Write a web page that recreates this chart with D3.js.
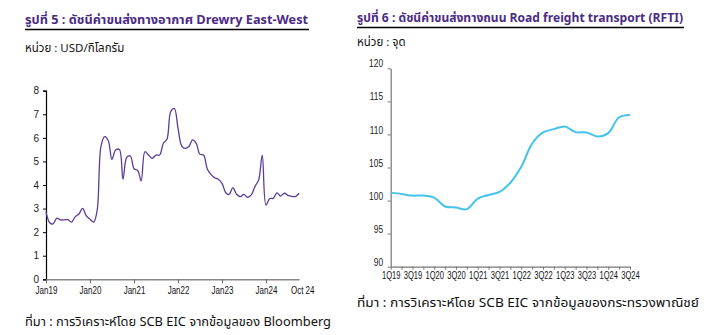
<!DOCTYPE html>
<html>
<head>
<meta charset="utf-8">
<script src="https://cdn.jsdelivr.net/npm/d3@7/dist/d3.min.js"></script>
<style>
  html, body { margin: 0; padding: 0; background: #fff; }
  svg { display: block; }
  text { font-family: Tahoma, "Noto Sans Thai", "Noto Sans", Arial, sans-serif; }
</style>
</head>
<body>
<svg id="chart" width="706" height="335"></svg>
<script>
// Drewry East-West air freight index, USD/kg, monthly Jan 2019 - Oct 2024
const airStart = new Date(2019, 0, 1);
const airValues = [
  2.87, 2.40, 2.35, 2.59, 2.52, 2.52, 2.53, 2.43, 2.66, 2.77, 3.01, 2.70,
  2.55, 2.43, 2.94, 5.63, 6.05, 5.88, 5.09, 5.48, 5.51, 4.24, 5.17, 5.23,
  4.69, 4.61, 4.17, 5.41, 5.27, 5.13, 5.27, 5.27, 5.77, 5.94, 7.11, 7.25,
  6.40, 5.65, 5.55, 5.63, 5.91, 5.77, 5.31, 5.27, 4.68, 4.45, 4.31, 4.24,
  4.07, 3.67, 3.60, 3.89, 3.62, 3.51, 3.60, 3.48, 3.58, 3.93, 4.21, 5.27,
  3.15, 3.43, 3.43, 3.67, 3.53, 3.65, 3.56, 3.52, 3.51, 3.65
];
const airYTicks = [0, 1, 2, 3, 4, 5, 6, 7, 8];
const airXTickLabels = ["Jan19", "Jan20", "Jan21", "Jan22", "Jan23", "Jan24", "Oct 24"];

// Road freight transport index (RFTI), points, quarterly 1Q19 - 3Q24
const roadQuarters = [
  "1Q19", "2Q19", "3Q19", "4Q19", "1Q20", "2Q20", "3Q20", "4Q20",
  "1Q21", "2Q21", "3Q21", "4Q21", "1Q22", "2Q22", "3Q22", "4Q22",
  "1Q23", "2Q23", "3Q23", "4Q23", "1Q24", "2Q24", "3Q24"
];
const roadValues = [
  101.2, 101.0, 100.75, 100.75, 100.45, 99.1, 98.95, 98.7,
  100.3, 100.85, 101.3, 102.7, 105.1, 108.6, 110.3, 110.8,
  111.2, 110.35, 110.3, 109.7, 110.2, 112.6, 112.95
];
const roadYTicks = [90, 95, 100, 105, 110, 115, 120];

const svg = d3.select("#chart");
const purple = "#4a2a86";
const narrow = "scale(0.8,1)";

// ---------- Headings ----------
function heading(x, y, x2, title, unit, unitY) {
  svg.append("text").attr("x", x).attr("y", y)
    .attr("font-size", 12.3).attr("font-weight", "bold").attr("fill", purple)
    .attr("textLength", x2 - x - 1).attr("lengthAdjust", "spacingAndGlyphs")
    .text(title);
  svg.append("line").attr("x1", x).attr("x2", x2)
    .attr("y1", y + 5.5).attr("y2", y + 5.5)
    .attr("stroke", "#000").attr("stroke-width", 1.3);
  svg.append("text").attr("x", x).attr("y", unitY)
    .attr("font-size", 11.5).attr("fill", "#111")
    .text(unit);
}
heading(25, 24, 309, "รูปที่ 5 : ดัชนีค่าขนส่งทางอากาศ Drewry East-West", "หน่วย : USD/กิโลกรัม", 52);
heading(357, 22, 684, "รูปที่ 6 : ดัชนีค่าขนส่งทางถนน Road freight transport (RFTI)", "หน่วย : จุด", 46);

// ---------- Left chart: air freight ----------
const airDates = airValues.map((v, i) => d3.timeMonth.offset(airStart, i));
const xAir = d3.scaleTime()
  .domain([airStart, airDates[airDates.length - 1]])
  .range([46, 299]);
const yAir = d3.scaleLinear().domain([0, 8]).range([279.3, 90.7]);

const gAirY = svg.append("g").attr("transform", "translate(46,0)")
  .call(d3.axisLeft(yAir).tickValues(airYTicks).tickSize(3).tickPadding(4).tickFormat(d3.format("d")));
gAirY.select(".domain").attr("stroke", "#000").attr("stroke-width", 1.2);
gAirY.selectAll(".tick line").attr("stroke", "#000");
gAirY.selectAll("text").attr("font-size", 10).attr("fill", "#222")
  .style("font-family", "Arial, 'Liberation Sans', sans-serif");

const airTickDates = [0, 12, 24, 36, 48, 60, 69].map(i => airDates[i]);
const gAirX = svg.append("g").attr("transform", "translate(0,279.3)")
  .call(d3.axisBottom(xAir).tickValues(airTickDates).tickSize(4).tickSizeOuter(0).tickPadding(4)
    .tickFormat((d, i) => airXTickLabels[i]));
gAirX.select(".domain").attr("stroke", "#888").attr("stroke-width", 1.5);
gAirX.selectAll(".tick line").attr("stroke", "#666");
gAirX.selectAll(".tick").filter((d, i) => i === airTickDates.length - 1).select("line").remove();
gAirX.selectAll("text").attr("font-size", 10).attr("fill", "#111")
  .style("font-family", "Arial, 'Liberation Sans', sans-serif")
  .attr("transform", narrow);
gAirX.selectAll(".tick").filter((d, i) => i === airTickDates.length - 1).select("text")
  .attr("dx", 4);

svg.append("path")
  .datum(airValues)
  .attr("fill", "none")
  .attr("stroke", "#5b3d99")
  .attr("stroke-width", 1.3)
  .attr("d", d3.line()
    .x((d, i) => xAir(airDates[i]))
    .y(d => yAir(d))
    .curve(d3.curveCatmullRom.alpha(0.5)));

svg.append("text").attr("x", 25).attr("y", 326)
  .attr("font-size", 12).attr("fill", "#111")
  .attr("textLength", 306).attr("lengthAdjust", "spacingAndGlyphs")
  .text("ที่มา : การวิเคราะห์โดย SCB EIC จากข้อมูลของ Bloomberg");

// ---------- Right chart: road freight ----------
const xRoad = d3.scalePoint().domain(roadQuarters).range([390.7, 630]);
const yRoad = d3.scaleLinear().domain([90, 120]).range([266.7, 68.3]);

const gRoadY = svg.append("g").attr("transform", "translate(390.7,0)")
  .call(d3.axisLeft(yRoad).tickValues(roadYTicks).tickSize(3).tickPadding(4).tickSizeOuter(0));
gRoadY.select(".domain").attr("stroke", "#777").attr("stroke-width", 1.2);
gRoadY.selectAll(".tick line").attr("stroke", "#777");
gRoadY.selectAll("text").attr("font-size", 10.5).attr("fill", "#222")
  .attr("dy", "0.15em")
  .style("font-family", "Arial, 'Liberation Sans', sans-serif")
  .attr("transform", "translate(-2,-3) scale(0.8,1)");

const gRoadX = svg.append("g").attr("transform", "translate(0,266.7)")
  .call(d3.axisBottom(xRoad).tickSize(3).tickSizeOuter(0).tickPadding(2)
    .tickFormat((d, i) => i % 2 === 0 ? d : ""));
gRoadX.select(".domain").attr("stroke", "#777").attr("stroke-width", 1.2);
gRoadX.selectAll(".tick line").attr("stroke", "#777");
gRoadX.selectAll("text").attr("font-size", 10.5).attr("fill", "#111")
  .style("font-family", "Arial, 'Liberation Sans', sans-serif")
  .attr("transform", "scale(0.72,1)");

svg.append("path")
  .datum(roadValues)
  .attr("fill", "none")
  .attr("stroke", "#45c3ec")
  .attr("stroke-width", 2)
  .attr("d", d3.line()
    .x((d, i) => xRoad(roadQuarters[i]))
    .y(d => yRoad(d))
    .curve(d3.curveCatmullRom.alpha(0.5)));

svg.append("text").attr("x", 357).attr("y", 307)
  .attr("font-size", 12).attr("fill", "#111")
  .attr("textLength", 342).attr("lengthAdjust", "spacingAndGlyphs")
  .text("ที่มา : การวิเคราะห์โดย SCB EIC จากข้อมูลของกระทรวงพาณิชย์");
</script>
</body>
</html>
